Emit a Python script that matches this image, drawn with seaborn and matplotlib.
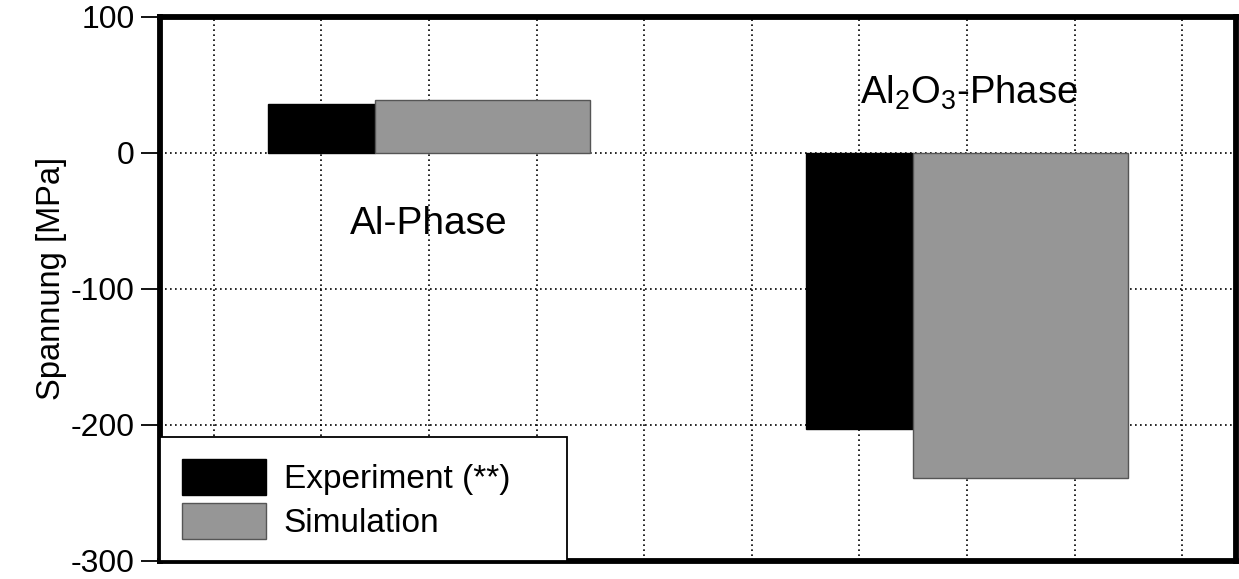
import matplotlib
matplotlib.use("Agg")
import matplotlib.pyplot as plt
import seaborn as sns
import numpy as np

# Residual stresses per phase (MPa)
phases = ["Al-Phase", r"Al$_2$O$_3$-Phase"]
experiment = [36, -203]
simulation = [39, -239]
series_labels = ["Experiment (**)", "Simulation"]
y_ticks = [100, 0, -100, -200, -300]

sns.set_style("white")
plt.rcParams["font.family"] = ["Liberation Sans", "DejaVu Sans"]
plt.rcParams["mathtext.fontset"] = "custom"
plt.rcParams["mathtext.rm"] = "Liberation Sans"
plt.rcParams["mathtext.it"] = "Liberation Sans"
plt.rcParams["axes.unicode_minus"] = False
plt.rcParams["text.color"] = "black"
plt.rcParams["axes.labelcolor"] = "black"
plt.rcParams["ytick.color"] = "black"
plt.rcParams["xtick.color"] = "black"

fig = plt.figure(figsize=(12.39, 5.79), dpi=100)
ax = fig.add_axes([160 / 1239, 18 / 579, (1236 - 160) / 1239, (562 - 18) / 579])

# group layout: experiment bar (width 1) followed by simulation bar (width 2)
group_start = np.array([1.0, 6.0])
exp_x = group_start + 0.5
sim_x = group_start + 2.0

sns.barplot(x=exp_x, y=experiment, native_scale=True, width=0.2,
            color="black", saturation=1, edgecolor="black", linewidth=1,
            errorbar=None, label=series_labels[0], ax=ax, zorder=3)
sns.barplot(x=sim_x, y=simulation, native_scale=True, width=0.4,
            color="#969696", saturation=1, edgecolor="#555555", linewidth=1,
            errorbar=None, label=series_labels[1], ax=ax, zorder=3)

ax.set_xlim(0, 10)
ax.set_ylim(-300, 100)
ax.set_xticks(np.arange(0.5, 10, 1.0))
ax.set_xticklabels([])
ax.tick_params(axis="x", length=0)
ax.set_yticks(y_ticks)
ax.set_yticklabels([str(t) for t in y_ticks], fontsize=23)
ax.tick_params(axis="y", direction="out", length=14, width=1.3, pad=4,
               color="black", labelcolor="black", left=True)
ax.grid(True, linestyle=(0, (1, 2)), color="black", linewidth=1.2, zorder=0)
ax.set_axisbelow(True)

for s in ax.spines.values():
    s.set_visible(True)
    s.set_color("black")
    s.set_linewidth(4.2)

ax.set_ylabel("Spannung [MPa]", fontsize=23.5, color="black")
ax.yaxis.set_label_coords(-0.086, 0.52)
ax.set_xlabel("")

ax.text(2.5, -52, phases[0], fontsize=28, ha="center", va="center",
        color="black", zorder=4)
ax.text(7.52, 44, phases[1], fontsize=27.5, ha="center", va="center",
        color="black", zorder=4)

leg = ax.legend(loc="lower left", bbox_to_anchor=(0, 0, 0.378, 0.226),
                mode="expand", fontsize=24, frameon=True, fancybox=False,
                handlelength=2.52, handleheight=1.3, handletextpad=0.54,
                labelspacing=0.24, borderpad=0.65, borderaxespad=0)
leg.get_frame().set_edgecolor("black")
leg.get_frame().set_linewidth(1.3)
leg.get_frame().set_alpha(1)
for t in leg.get_texts():
    t.set_color("black")
leg.set_zorder(5)

fig.savefig("out.png", dpi=100)
